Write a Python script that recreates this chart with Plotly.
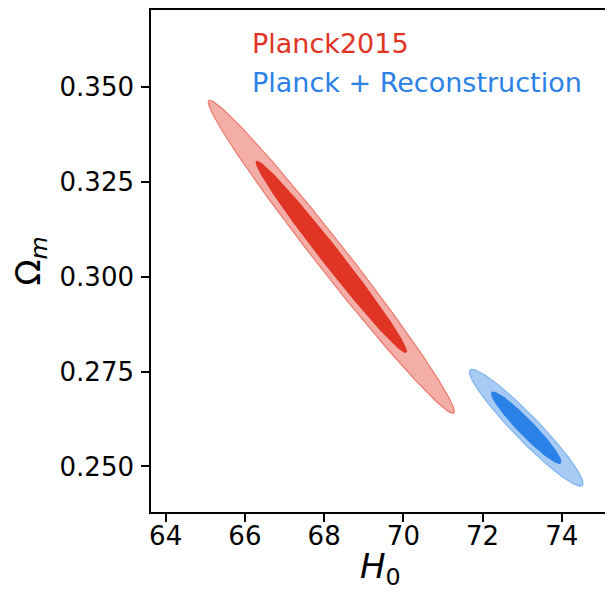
import numpy as np
import plotly.graph_objects as go

# ---- data ----
dataset_names = ["Planck2015", "Planck + Reconstruction"]
center_H0 = [68.18, 73.10]
center_Om = [0.3052, 0.2602]
sigma_H0 = [1.25, 0.577]
sigma_Om = [0.0166, 0.0062]
corr = [-0.988, -0.953]
contour_levels = [6.17, 2.30]  # delta chi^2 for 95% and 68% (2 params)

x_ticks = [64, 66, 68, 70, 72, 74]
y_ticks = [0.250, 0.275, 0.300, 0.325, 0.350]
x_range = [63.63, 75.19]
y_range = [0.2380, 0.3702]

# ---- styles ----
fill_colors = [["#f3aea7", "#e03424"], ["#a8cbf5", "#2a82e7"]]
edge_colors = [["#ec7a6e", "#e03424"], ["#7cb4f1", "#2a82e7"]]
text_colors = ["#e03424", "#2a82e7"]
FONT = "DejaVu Sans"

fig = go.Figure()
t = np.linspace(0, 2 * np.pi, 400)
for i in range(len(dataset_names)):
    cov = np.array([[sigma_H0[i] ** 2, corr[i] * sigma_H0[i] * sigma_Om[i]],
                    [corr[i] * sigma_H0[i] * sigma_Om[i], sigma_Om[i] ** 2]])
    L = np.linalg.cholesky(cov)
    for j, k in enumerate(contour_levels):
        pts = L @ np.vstack([np.cos(t), np.sin(t)]) * np.sqrt(k)
        fig.add_trace(go.Scatter(
            x=center_H0[i] + pts[0], y=center_Om[i] + pts[1],
            mode="lines", fill="toself",
            fillcolor=fill_colors[i][j],
            line=dict(color=edge_colors[i][j], width=1.2),
            hoverinfo="skip", showlegend=False))

label_y = [0.3614, 0.3512]
for i, name in enumerate(dataset_names):
    fig.add_annotation(x=66.13, y=label_y[i], xref="x", yref="y", text=name,
                       showarrow=False, xanchor="left", yanchor="middle",
                       font=dict(family=FONT, size=27, color=text_colors[i]))

# x-axis title as annotation for precise placement
fig.add_annotation(x=0.5, y=0, xref="paper", yref="paper", text="<i>H</i><sub>0</sub>",
                   showarrow=False, xanchor="center", yanchor="middle", yshift=-56,
                   font=dict(family=FONT, size=34, color="black"))

axis_common = dict(showline=True, linecolor="black", linewidth=1.6, mirror=True,
                   ticks="outside", ticklen=8, tickwidth=1.6, tickcolor="black",
                   showgrid=False, zeroline=False,
                   tickfont=dict(family=FONT, size=26, color="black"))

fig.update_xaxes(range=x_range, tickvals=x_ticks, ticktext=[str(v) for v in x_ticks],
                 ticklabelstandoff=-8, **axis_common)
fig.update_yaxes(range=y_range, tickvals=y_ticks, ticktext=[f"{v:.3f}" for v in y_ticks],
                 ticklabelstandoff=2,
                 title=dict(text="Ω<sub><i>m</i></sub>", font=dict(family=FONT, size=34, color="black"),
                            standoff=12),
                 **axis_common)

# page body has an 8px margin, so the figure is sized to fit the window
fig.update_layout(width=605, height=595, margin=dict(l=143, r=4, t=0, b=91),
                  plot_bgcolor="white", paper_bgcolor="white")

fig.write_html("out.html")
